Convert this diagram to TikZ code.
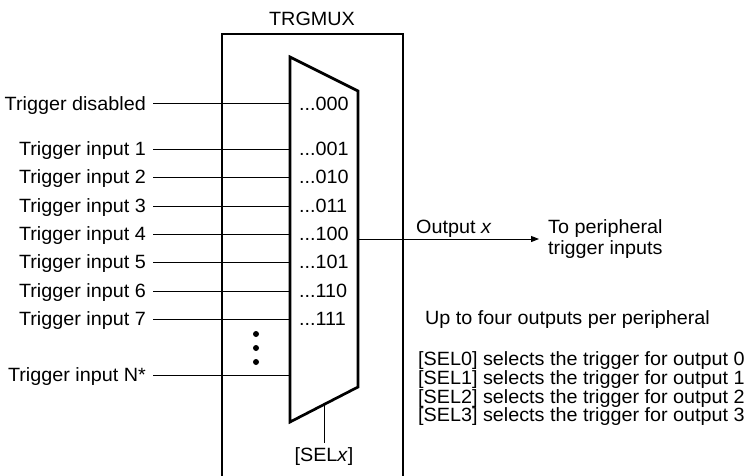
\documentclass[tikz,border=0pt]{standalone}
\usepackage{fontspec}
\setmainfont{Liberation Sans}[FakeStretch=1.03]
\usetikzlibrary{arrows.meta,calc}
\newcommand\mydots{...}
\begin{document}
\begin{tikzpicture}[x=1pt,y=-1pt,
  txt/.style={font=\fontsize{19.2}{22}\selectfont, inner sep=0pt, text height=13.8pt, text depth=0pt},
  wire/.style={line width=1pt},
  boxline/.style={line width=2.2pt},
  muxline/.style={line width=2.7pt, line join=miter}]
\useasboundingbox (0,0) rectangle (749,476);
% outer TRGMUX box (bottom edge outside the picture)
\draw[boxline] (222,480) -- (222,34) -- (403,34) -- (403,480);
\node[txt] (title) at (312,19) {TRGMUX};
% mux trapezoid
\coordinate (mtl) at (290,57);
\coordinate (mtr) at (358,91);
\coordinate (mbr) at (358,387);
\coordinate (mbl) at (290,422);
\draw[muxline, fill=white] (mtl) -- (mtr) -- (mbr) -- (mbl) -- cycle;
% inputs
\foreach \lab/\code/\yy/\nm in {Trigger disabled/000/104/i0, Trigger input 1/001/149/i1,
  Trigger input 2/010/177/i2, Trigger input 3/011/206/i3, Trigger input 4/100/234/i4,
  Trigger input 5/101/262/i5, Trigger input 6/110/291/i6, Trigger input 7/111/319/i7}{
  \node[txt, anchor=east] (\nm) at (146,\yy) {\lab};
  \node[txt, anchor=west] (c\nm) at (299,\yy) {\mydots\code};
  \draw[wire] ([xshift=7pt]\nm.east) -- (\nm.east -| mtl);
}
\node[txt, anchor=east] (iN) at (146,375) {Trigger input N*};
\draw[wire] ([xshift=7pt]iN.east) -- (iN.east -| mtl);
% dots
\foreach \yy in {334,348,362}{
  \fill (256,\yy) circle (3pt);
}
% select line
\coordinate (selt) at ($(mbl)!0.5!(mbr)$);
\node[txt] (sel) at (324,455) {[SEL\textit{x}]};
\draw[wire] (selt) -- (selt |- 0,443);
% output
\coordinate (outs) at (358,239);
\node[txt, anchor=west] (outlbl) at (416,227) {Output \textit{x}};
\node[txt, anchor=west] (to1) at (548,227) {To peripheral};
\node[txt, anchor=west] (to2) at (548,248) {trigger inputs};
\coordinate (oute) at (539,239);
\draw[wire, -{Triangle[length=8pt,width=6pt]}] (outs) -- (oute);
% notes
\node[txt, anchor=west] (note) at (425,318) {Up to four outputs per peripheral};
\node[txt, anchor=west] (s0) at (418,359) {[SEL0] selects the trigger for output 0};
\node[txt, anchor=west] (s1) at (418,377.7) {[SEL1] selects the trigger for output 1};
\node[txt, anchor=west] (s2) at (418,396.4) {[SEL2] selects the trigger for output 2};
\node[txt, anchor=west] (s3) at (418,415) {[SEL3] selects the trigger for output 3};
\end{tikzpicture}
\end{document}
